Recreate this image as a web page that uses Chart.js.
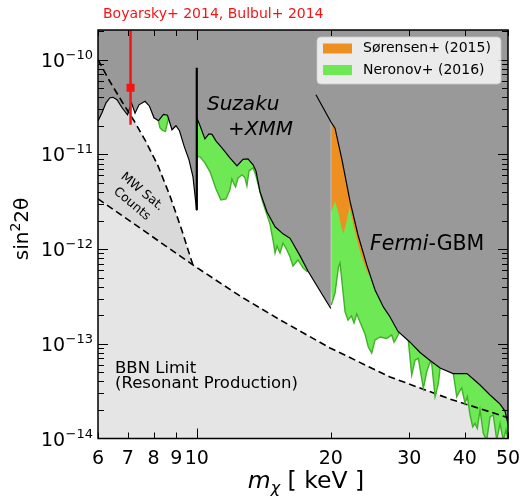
<!DOCTYPE html>
<html>
<head>
<meta charset="utf-8">
<script src="https://cdn.jsdelivr.net/npm/chart.js@4.4.0/dist/chart.umd.min.js"></script>
<style>
  html, body { margin: 0; padding: 0; background: #fff; }
  #wrap { width: 522px; height: 497px; }
</style>
</head>
<body>
<div id="wrap"><canvas id="chart" width="522" height="497"></canvas></div>
<script>
// Sterile neutrino parameter space: mass [keV] vs sin^2(2 theta)

const massTicks = [6, 7, 8, 9, 10, 20, 30, 40, 50];
const mixDecades = [-10, -11, -12, -13, -14];

// BBN limit (resonant production)
const bbnMass = [6.0, 7.85, 9.80, 12.5, 15.38, 19.92, 27.17, 37.05, 50.0];
const bbnMix = [3.40e-12, 1.41e-12, 6.81e-13, 3.20e-13, 1.79e-13, 9.04e-14, 4.46e-14, 2.61e-14, 1.66e-14];

// Milky Way satellite counts
const mwMass = [6.0, 6.385, 6.794, 7.228, 7.691, 8.184, 8.705, 9.265, 9.80];
const mwMix = [1.0e-10, 5.85e-11, 3.60e-11, 2.27e-11, 1.36e-11, 7.57e-12, 3.65e-12, 1.56e-12, 6.81e-13];

// X-ray limits below 10 keV, then Suzaku + XMM up to 20 keV
const xrayMass = [6.00, 6.125, 6.254, 6.385, 6.485, 6.620, 6.794, 6.989, 7.135, 7.266,
  7.418, 7.651, 7.831, 8.014, 8.204, 8.418, 8.594, 8.796, 8.980, 9.144,
  9.362, 9.606, 9.806, 9.99, 10.0, 10.17, 10.43, 10.65, 10.82, 11.04,
  11.39, 11.87, 12.31, 12.70, 13.03, 13.38, 13.58, 13.87, 14.38, 14.99,
  15.62, 16.20, 17.06, 17.77, 18.92, 20.0];
const xrayMix = [2.26e-11, 2.76e-11, 3.51e-11, 3.97e-11, 4.01e-11, 3.78e-11, 3.11e-11, 2.62e-11, 3.51e-11, 2.72e-11,
  3.34e-11, 3.64e-11, 3.23e-11, 2.44e-11, 2.27e-11, 2.65e-11, 2.59e-11, 1.82e-11, 2.01e-11, 1.78e-11,
  1.23e-11, 8.77e-12, 5.80e-12, 2.59e-12, 2.44e-11, 2.01e-11, 1.46e-11, 1.65e-11, 1.63e-11, 1.39e-11,
  1.17e-11, 9.2e-12, 7.57e-12, 8.87e-12, 8.98e-12, 7.77e-12, 6.71e-12, 4.02e-12, 2.47e-12, 1.72e-12,
  1.45e-12, 1.30e-12, 8.48e-13, 5.88e-13, 3.61e-13, 2.36e-13];

// Fermi-GBM line search
const fermiMass = [18.52, 20.0, 20.44, 21.19, 22.09, 23.02, 24.08, 25.14, 26.24, 27.17, 28.31,
  30.13, 31.73, 33.41, 35.19, 37.63, 40.45, 43.27, 45.57, 47.99, 49.24, 50.0];
const fermiMix = [4.27e-11, 2.21e-11, 1.89e-11, 8.77e-12, 3.19e-12, 1.41e-12, 6.81e-13, 3.70e-13, 2.45e-13, 1.92e-13, 1.35e-13,
  1.04e-13, 8.09e-14, 6.66e-14, 5.55e-14, 4.85e-14, 4.85e-14, 3.67e-14, 2.88e-14, 2.31e-14, 1.95e-14, 1.42e-14];

// Sørensen+ (2015), lower edge
const sorensenMass = [20.05, 20.44, 20.81, 21.14, 21.36, 21.69, 22.03, 22.43, 23.02, 23.62, 24.12, 24.50];
const sorensenMix = [2.47e-12, 3.23e-12, 2.41e-12, 1.67e-12, 1.45e-12, 1.94e-12, 2.79e-12, 1.85e-12, 1.11e-12, 7.50e-13, 5.74e-13, 5.21e-13];

// Neronov+ (2016), lower edge; null separates the patches
const neronovMass = [8.204, 8.267, 8.396, 8.505, 8.572, 8.639, 9.0,
  10.02, 10.17, 10.43, 10.71, 11.04, 11.33, 11.63, 11.87, 11.99, 12.12, 12.22, 12.38, 12.64, 12.83,
  12.96, 13.10, 13.38, 13.58, 14.01, 14.60, 14.83, 14.99, 15.14, 15.38, 15.62, 15.94, 16.20, 16.45,
  16.88, 17.32, 17.73, 19.0,
  20.05, 20.44, 20.81, 20.98, 21.19, 21.53, 21.86, 22.26, 22.55, 22.87, 23.26, 23.87, 24.28, 24.71,
  25.14, 25.80, 26.70, 27.40, 27.74, 28.17, 28.47, 29.0,
  29.86, 30.39, 30.92, 31.45, 32.27, 32.84, 33.41, 33.70, 34.29, 34.88, 35.19, 36.5,
  37.69, 38.36, 38.82, 39.36, 40.04, 40.51, 41.09, 41.66, 42.17, 42.66, 43.27, 44.01, 44.79, 45.57,
  46.34, 47.17, 47.99, 48.80, 49.49, 50.0];
const neronovMix = [2.24e-11, 1.91e-11, 1.78e-11, 1.75e-11, 2.06e-11, 2.38e-11, null,
  9.43e-12, 9.43e-12, 8.15e-12, 6.55e-12, 4.33e-12, 3.31e-12, 3.39e-12, 4.23e-12, 5.52e-12, 4.89e-12, 4.54e-12, 5.66e-12, 6.09e-12, 5.66e-12,
  4.66e-12, 6.71e-12, 7.22e-12, 5.94e-12, 3.31e-12, 1.85e-12, 1.25e-12, 9.12e-13, 1.08e-12, 9.12e-13, 1.16e-12, 9.80e-13, 8.27e-13, 6.64e-13,
  7.69e-13, 6.33e-13, 5.74e-13, null,
  2.57e-13, 3.44e-13, 6.48e-13, 7.14e-13, 4.50e-13, 2.17e-13, 1.78e-13, 1.97e-13, 1.66e-13, 2.07e-13, 1.70e-13, 1.27e-13, 9.25e-14, 7.99e-14,
  1.10e-13, 1.18e-13, 1.14e-13, 1.24e-13, 1.04e-13, 1.18e-13, 1.30e-13, null,
  1.08e-13, 4.68e-14, 6.74e-14, 7.03e-14, 3.38e-14, 5.07e-14, 6.42e-14, 6.22e-14, 2.76e-14, 3.82e-14, 5.48e-14, null,
  4.85e-14, 2.76e-14, 3.09e-14, 3.41e-14, 2.35e-14, 2.76e-14, 1.77e-14, 1.33e-14, 1.44e-14, 1.28e-14, 2.00e-14, 1.13e-14, 9.6e-15, 1.70e-14,
  1.77e-14, 9.6e-15, 1.44e-14, 9.6e-15, 1.23e-14, 9.6e-15];

// 3.5 keV line (7.1 keV mass) with its error bar, and the 10 keV XMM edge
const lineMass = 7.1;
const lineMix = 5.06e-11;
const lineMixRange = [2.06e-11, 3e-10];
const edgeMass = 10.0;
const edgeMixRange = [2.59e-12, 8.23e-11];

const legendLabels = ['Sørensen+ (2015)', 'Neronov+ (2016)'];

const COLORS = {
  excluded: '#999999',
  bbn: '#e5e5e5',
  mw: '#d9d9d9',
  green: 'rgb(110,232,84)',
  greenEdge: 'rgb(64,178,40)',
  orange: 'rgb(238,144,32)',
  red: 'rgb(245,20,20)'
};
const FONT = '"DejaVu Sans"';

const pts = (xs, ys) => xs.map((x, i) => ({ x, y: ys[i] }));

// excluded region: X-ray curve up to 20 keV, Fermi-GBM beyond
const excludedPts = pts(xrayMass, xrayMix).concat(pts(fermiMass, fermiMix).filter(p => p.x >= 20));

const datasets = [
  { id: 'lineBar', data: [{ x: lineMass, y: lineMixRange[0] }, { x: lineMass, y: lineMixRange[1] }],
    borderColor: COLORS.red, borderWidth: 2.5, clip: 0, order: 0 },
  { id: 'linePoint', data: [{ x: lineMass, y: lineMix }], showLine: false,
    pointRadius: 5.7, pointStyle: 'rect', pointBackgroundColor: COLORS.red, pointBorderWidth: 0, order: 0 },
  { id: 'xray', data: pts(xrayMass, xrayMix), borderColor: '#000', borderWidth: 1.2, order: 2 },
  { id: 'fermi', data: pts(fermiMass, fermiMix), borderColor: '#000', borderWidth: 1.2, order: 2 },
  { id: 'edge', data: [{ x: edgeMass, y: edgeMixRange[0] }, { x: edgeMass, y: edgeMixRange[1] }],
    borderColor: '#000', borderWidth: 2.2, order: 2 },
  { id: 'bbn', data: pts(bbnMass, bbnMix), borderColor: '#000', borderWidth: 1.6, borderDash: [7, 4],
    backgroundColor: COLORS.bbn, fill: 'start', order: 10 },
  { id: 'mw', data: pts(mwMass, mwMix), borderColor: '#000', borderWidth: 1.6, borderDash: [7, 4],
    backgroundColor: COLORS.mw, order: 9 },
  { id: 'excluded', data: excludedPts, borderWidth: 0, backgroundColor: COLORS.excluded, fill: 'end', order: 8 },
  { id: 'neronov', data: pts(neronovMass, neronovMix), borderColor: COLORS.greenEdge, borderWidth: 1.4,
    backgroundColor: COLORS.green, order: 7 },
  { id: 'sorensen', data: pts(sorensenMass, sorensenMix), borderWidth: 0, backgroundColor: COLORS.orange, order: 6 }
];
const idx = id => datasets.findIndex(d => d.id === id);
datasets[idx('mw')].fill = { target: idx('bbn') };
datasets[idx('neronov')].fill = { target: idx('excluded') };
datasets[idx('sorensen')].fill = { target: idx('excluded') };
datasets.forEach(d => {
  if (d.pointRadius === undefined) d.pointRadius = 0;
  if (d.fill === undefined) d.fill = false;
});

// draw a run of text pieces (font / vertical shift) starting at x
function textRun(ctx, pieces, x, y, align) {
  let total = 0;
  pieces.forEach(p => { ctx.font = p.font; p.w = ctx.measureText(p.t).width; total += p.w; });
  let cx = align === 'center' ? x - total / 2 : x;
  ctx.textAlign = 'left';
  pieces.forEach(p => {
    ctx.font = p.font;
    ctx.fillText(p.t, cx, y + (p.dy || 0));
    cx += p.w;
  });
}

const decor = {
  id: 'decor',
  afterDraw(chart) {
    const { ctx, chartArea: a, scales } = chart;
    const xs = scales.x, ys = scales.y;
    ctx.save();

    // inward ticks on all four sides
    ctx.strokeStyle = '#000';
    ctx.lineWidth = 1;
    ctx.beginPath();
    massTicks.forEach(v => {
      const px = Math.round(xs.getPixelForValue(v)) + 0.5;
      const len = v === 10 ? 10 : 6;
      ctx.moveTo(px, a.bottom); ctx.lineTo(px, a.bottom - len);
      ctx.moveTo(px, a.top); ctx.lineTo(px, a.top + len);
    });
    for (let e = -15; e <= -9; e++) {
      for (let m = 1; m <= 9; m++) {
        const py = ys.getPixelForValue(m * Math.pow(10, e));
        if (py < a.top + 1 || py > a.bottom - 1) continue;
        const yy = Math.round(py) + 0.5;
        const len = m === 1 ? 10 : 6;
        ctx.moveTo(a.left, yy); ctx.lineTo(a.left + len, yy);
        ctx.moveTo(a.right, yy); ctx.lineTo(a.right - len, yy);
      }
    }
    ctx.stroke();

    ctx.lineWidth = 1.5;
    ctx.strokeRect(a.left, a.top, a.right - a.left, a.bottom - a.top);

    // tick labels
    ctx.fillStyle = '#000';
    ctx.textBaseline = 'alphabetic';
    ctx.font = '19px ' + FONT;
    ctx.textAlign = 'center';
    massTicks.forEach(v => ctx.fillText(String(v), xs.getPixelForValue(v), 464));
    mixDecades.forEach(d => {
      const py = ys.getPixelForValue(Math.pow(10, d));
      const sup = '\u2212' + Math.abs(d);
      ctx.textAlign = 'right';
      ctx.font = '13px ' + FONT;
      ctx.fillText(sup, 93, py - 1);
      const w = ctx.measureText(sup).width;
      ctx.font = '19px ' + FONT;
      ctx.fillText('10', 93 - w - 0.5, py + 7);
    });

    // axis titles
    textRun(ctx, [
      { t: 'm', font: 'italic 23.5px ' + FONT },
      { t: '\u03c7', font: 'italic 16px ' + FONT, dy: 5 },
      { t: ' [ keV ]', font: '23.5px ' + FONT }
    ], 306, 488, 'center');

    ctx.save();
    ctx.translate(28, 229);
    ctx.rotate(-Math.PI / 2);
    textRun(ctx, [
      { t: 'sin', font: '20px ' + FONT },
      { t: '2', font: '14px ' + FONT, dy: -8.5 },
      { t: '2\u03b8', font: '20px ' + FONT }
    ], 0, 0, 'center');
    ctx.restore();

    // region annotations
    ctx.textAlign = 'left';
    ctx.font = 'italic 20px ' + FONT;
    ctx.fillText('Suzaku', 207, 110);
    ctx.fillText('+XMM', 228, 135);
    textRun(ctx, [
      { t: 'Fermi', font: 'italic 20.5px ' + FONT },
      { t: '-GBM', font: '20.5px ' + FONT }
    ], 370, 249.5, 'left');

    ctx.font = '16.5px ' + FONT;
    ctx.fillText('BBN Limit', 115, 373);
    ctx.fillText('(Resonant Production)', 115, 388);

    ctx.save();
    ctx.translate(137, 198);
    ctx.rotate(40 * Math.PI / 180);
    ctx.font = '12.5px ' + FONT;
    ctx.textAlign = 'center';
    ctx.textBaseline = 'middle';
    ctx.fillText('MW Sat.', 0, -8);
    ctx.fillText('Counts', 0, 8);
    ctx.restore();

    ctx.fillStyle = COLORS.red;
    ctx.font = '14px ' + FONT;
    ctx.textAlign = 'left';
    ctx.fillText('Boyarsky+ 2014, Bulbul+ 2014', 103, 18);

    // legend
    ctx.beginPath();
    ctx.roundRect(317, 37, 184, 47, 4);
    ctx.fillStyle = 'rgba(255,255,255,0.8)';
    ctx.fill();
    ctx.strokeStyle = 'rgba(204,204,204,0.8)';
    ctx.lineWidth = 1;
    ctx.stroke();
    const swatch = [COLORS.orange, COLORS.green];
    legendLabels.forEach((label, i) => {
      const cy = 48.5 + i * 21.5;
      ctx.fillStyle = swatch[i];
      ctx.fillRect(323, cy - 5, 29, 10);
      ctx.fillStyle = '#000';
      ctx.font = '14px ' + FONT;
      ctx.textBaseline = 'middle';
      ctx.fillText(label, 363, cy);
    });

    ctx.restore();
  }
};

Chart.defaults.font.family = FONT;

new Chart(document.getElementById('chart'), {
  type: 'line',
  data: { datasets },
  options: {
    responsive: false,
    animation: false,
    events: [],
    layout: { padding: { top: 30, right: 14, bottom: 0, left: 0 } },
    scales: {
      x: {
        type: 'logarithmic', min: 6, max: 50, bounds: 'data',
        grid: { display: false }, border: { display: false }, ticks: { display: false },
        afterFit(scale) { scale.height = 58.5; }
      },
      y: {
        type: 'logarithmic', min: 1e-14, max: 2.06e-10, bounds: 'data',
        grid: { display: false }, border: { display: false }, ticks: { display: false },
        afterFit(scale) { scale.width = 98; }
      }
    },
    plugins: {
      legend: { display: false },
      tooltip: { enabled: false },
      filler: { drawTime: 'beforeDatasetsDraw' }
    }
  },
  plugins: [decor]
});
</script>
</body>
</html>
